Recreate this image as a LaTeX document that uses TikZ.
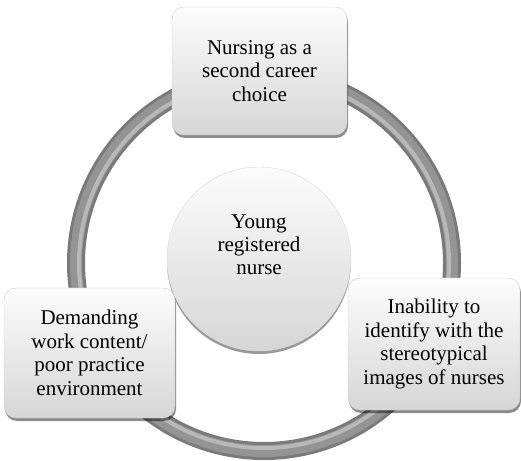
\documentclass[tikz,border=0pt]{standalone}
\usepackage{fontspec}
\setmainfont{Liberation Serif}
\usetikzlibrary{shadows}

\definecolor{ringdark}{rgb}{0.48,0.48,0.48}
\definecolor{ringmid}{rgb}{0.58,0.58,0.58}
\definecolor{ringlight}{rgb}{0.72,0.72,0.72}
\definecolor{boxtop}{rgb}{0.99,0.99,0.99}
\definecolor{boxbottom}{rgb}{0.84,0.84,0.84}

\tikzset{
  factorbox/.style={draw=black!20, rounded corners=12pt, top color=boxtop, bottom color=boxbottom,
    drop shadow={shadow xshift=1pt, shadow yshift=-3pt, opacity=0.45, fill=black},
    align=center, font=\fontsize{21}{23.5}\selectfont},
  hubcircle/.style={circle, draw=black!15, top color=boxtop, bottom color=boxbottom,
    drop shadow={shadow xshift=0pt, shadow yshift=-3pt, opacity=0.4, fill=black},
    minimum size=184pt, inner sep=0pt},
  hubtext/.style={align=center, font=\fontsize{21}{23}\selectfont}
}

\begin{document}
\begin{tikzpicture}[x=1pt,y=1pt]
    \useasboundingbox (0,0) rectangle (521,460);

    % Gray ring behind everything
    \coordinate (ringcentre) at (264,197);
    \draw[ringdark, line width=18pt] (ringcentre) circle (188pt);
    \draw[ringmid, line width=12pt] (ringcentre) circle (188pt);
    \draw[ringlight, line width=4pt] (ringcentre) circle (185pt);

    % Centre circle
    \node[hubcircle] (hub) at (259,201) {};
    \node[hubtext] (hublabel) at ([yshift=14pt]hub.center) {Young\\registered\\nurse};

    % Top box
    \node[factorbox, minimum width=175pt, minimum height=128pt] (career) at (259.5,389)
        {Nursing as a\\second career\\choice};

    % Bottom left box
    \node[factorbox, minimum width=171pt, minimum height=130pt] (workload) at (89.5,107)
        {Demanding\\work content/\\poor practice\\environment};

    % Bottom right box
    \node[factorbox, minimum width=172pt, minimum height=132pt] (image) at (434,116)
        {Inability to\\identify with the\\stereotypical\\images of nurses};
\end{tikzpicture}
\end{document}
